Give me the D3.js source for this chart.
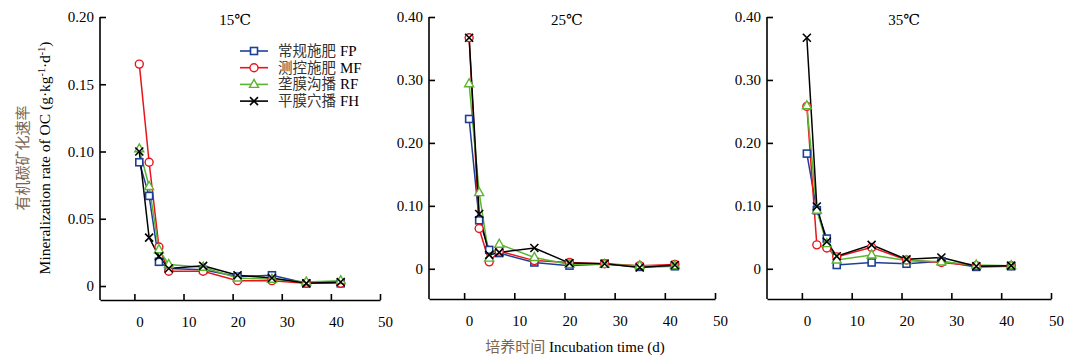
<!DOCTYPE html>
<html>
<head>
<meta charset="utf-8">
<script src="https://cdn.jsdelivr.net/npm/d3@7"></script>
<style>
  body { margin: 0; background: #fff; }
  svg { display: block; }
  svg text { font-family: "Liberation Serif", "DejaVu Serif", serif; fill: #000; }
  svg .cjk { font-family: "Noto Sans CJK SC", sans-serif; }
  .axis path, .axis line { stroke: #000; stroke-width: 1.6px; }
</style>
</head>
<body>
<svg width="1073" height="364" font-family="Liberation Serif, serif"></svg>
<script>
// 培养天数
const days = [1, 3, 5, 7, 14, 21, 28, 35, 42];
const temps = ["15℃", "25℃", "35℃"];

// 各处理的矿化速率 (15℃, 25℃, 35℃)
const FP = [
  [0.092, 0.067, 0.018, 0.013, 0.012, 0.007, 0.008, 0.002, 0.002],
  [0.238, 0.077, 0.030, 0.025, 0.010, 0.005, 0.008, 0.003, 0.004],
  [0.183, 0.093, 0.048, 0.006, 0.010, 0.008, 0.012, 0.003, 0.004]
];
const MF = [
  [0.165, 0.092, 0.029, 0.011, 0.011, 0.004, 0.004, 0.002, 0.002],
  [0.367, 0.064, 0.011, 0.028, 0.013, 0.010, 0.008, 0.005, 0.007],
  [0.258, 0.038, 0.033, 0.019, 0.034, 0.014, 0.010, 0.005, 0.005]
];
const RF = [
  [0.102, 0.074, 0.027, 0.016, 0.014, 0.006, 0.005, 0.003, 0.004],
  [0.294, 0.121, 0.017, 0.039, 0.018, 0.007, 0.007, 0.005, 0.005],
  [0.259, 0.093, 0.040, 0.014, 0.022, 0.013, 0.011, 0.006, 0.005]
];
const FH = [
  [0.100, 0.036, 0.022, 0.013, 0.015, 0.008, 0.006, 0.002, 0.003],
  [0.367, 0.087, 0.022, 0.026, 0.033, 0.009, 0.008, 0.002, 0.006],
  [0.367, 0.099, 0.043, 0.020, 0.038, 0.015, 0.018, 0.004, 0.005]
];

// 刻度
const xTicks = [0, 10, 20, 30, 40, 50];
const yTicksLow = [0, 0.05, 0.10, 0.15, 0.20];
const yTicksHigh = [0, 0.10, 0.20, 0.30, 0.40];

// 图例
const seriesNames = ["常规施肥 FP", "测控施肥 MF", "垄膜沟播 RF", "平膜穴播 FH"];
const seriesData = [FP, MF, RF, FH];
const colors = ["#1d3f96", "#e8141c", "#5cb531", "#000000"];
const shapes = ["square", "circle", "triangle", "cross"];

const svg = d3.select("svg");

// 面板位置
const panels = [
  { x0: 100, x1: 380, yMin: -0.0104, yMax: 0.20, y0: 300, yTop: 17, ticks: yTicksLow },
  { x0: 429, x1: 715, yMin: -0.048, yMax: 0.40, y0: 299, yTop: 17, ticks: yTicksHigh },
  { x0: 767, x1: 1051, yMin: -0.048, yMax: 0.40, y0: 299, yTop: 17, ticks: yTicksHigh }
];

function fmt(v) { return v === 0 ? "0" : d3.format(".2f")(v); }

// 标记
function drawMarker(g, shape, color, x, y) {
  if (shape === "square") {
    g.append("rect").attr("x", x - 3.5).attr("y", y - 3.5).attr("width", 7).attr("height", 7)
      .attr("fill", "#fff").attr("stroke", color).attr("stroke-width", 1.6);
  } else if (shape === "circle") {
    g.append("circle").attr("cx", x).attr("cy", y).attr("r", 4)
      .attr("fill", "#fff").attr("stroke", color).attr("stroke-width", 1.4);
  } else if (shape === "triangle") {
    g.append("path").attr("d", `M${x},${y - 5}L${x + 4.5},${y + 3}L${x - 4.5},${y + 3}Z`)
      .attr("fill", "#fff").attr("stroke", color).attr("stroke-width", 1.4);
  } else {
    g.append("path").attr("d", `M${x - 4},${y - 4}L${x + 4},${y + 4}M${x - 4},${y + 4}L${x + 4},${y - 4}`)
      .attr("fill", "none").attr("stroke", color).attr("stroke-width", 1.6);
  }
}

panels.forEach((p, pi) => {
  const x = d3.scaleLinear().domain([-7, 50]).range([p.x0, p.x1]);
  const y = d3.scaleLinear().domain([p.yMin, p.yMax]).range([p.y0, p.yTop]);

  // x 轴
  const gx = svg.append("g").attr("class", "axis")
    .attr("transform", `translate(0,${p.y0})`)
    .call(d3.axisBottom(x).tickValues(xTicks).tickSizeInner(-6).tickSizeOuter(0).tickFormat(d3.format("d")));
  gx.attr("font-family", null);
  gx.selectAll("text").attr("y", 16).attr("dx", 5).style("font-size", "15px");

  // y 轴
  const gy = svg.append("g").attr("class", "axis")
    .attr("transform", `translate(${p.x0},0)`)
    .call(d3.axisLeft(y).tickValues(p.ticks).tickSizeInner(-6).tickSizeOuter(0).tickFormat(fmt));
  gy.attr("font-family", null);
  gy.select(".domain").attr("d", `M0,${p.yTop}V${p.y0}`);
  gy.selectAll("text").attr("x", -6).style("font-size", "15px");

  // 标题
  svg.append("text").attr("x", x(20.5)).attr("y", 25).attr("text-anchor", "middle")
    .style("font-size", "15px").text(temps[pi]);

  const line = d3.line().x(d => x(d[0])).y(d => y(d[1]));

  seriesData.forEach((s, si) => {
    const pts = days.map((d, i) => [d, s[pi][i]]);
    svg.append("path").datum(pts).attr("d", line)
      .attr("fill", "none").attr("stroke", colors[si]).attr("stroke-width", 1.5);
  });
  seriesData.forEach((s, si) => {
    const g = svg.append("g");
    days.forEach((d, i) => drawMarker(g, shapes[si], colors[si], x(d), y(s[pi][i])));
  });
});

// 图例
seriesNames.forEach((name, i) => {
  const ly = 51 + i * 16.7;
  const g = svg.append("g");
  g.append("line").attr("x1", 240).attr("x2", 268).attr("y1", ly).attr("y2", ly)
    .attr("stroke", colors[i]).attr("stroke-width", 1.6);
  drawMarker(g, shapes[i], colors[i], 254, ly);
  const parts = name.split(" ");
  g.append("text").attr("class", "cjk").attr("x", 278).attr("y", ly + 5)
    .style("font-size", "14.5px").style("fill", "#333").text(parts[0]);
  g.append("text").attr("x", 340).attr("y", ly + 5)
    .style("font-size", "15px").text(parts[1]);
});

// 轴标题
const yl = svg.append("g").attr("transform", "translate(0,158) rotate(-90)");
yl.append("text").attr("class", "cjk").attr("x", 0).attr("y", 28).attr("text-anchor", "middle")
  .style("font-size", "15px").style("fill", "#7b6450").text("有机碳矿化速率");
const yt = yl.append("text").attr("x", 0).attr("y", 50).attr("text-anchor", "middle").style("font-size", "15.5px");
yt.append("tspan").text("Mineralization rate of OC (g·kg");
yt.append("tspan").attr("dy", -5).style("font-size", "10px").text("-1");
yt.append("tspan").attr("dy", 5).text("·d");
yt.append("tspan").attr("dy", -5).style("font-size", "10px").text("-1");
yt.append("tspan").attr("dy", 5).text(")");

const xl = svg.append("text").attr("x", 575).attr("y", 352).attr("text-anchor", "middle").style("font-size", "15px");
xl.append("tspan").attr("class", "cjk").style("fill", "#7b6450").text("培养时间");
xl.append("tspan").text(" Incubation time (d)");
</script>
</body>
</html>
